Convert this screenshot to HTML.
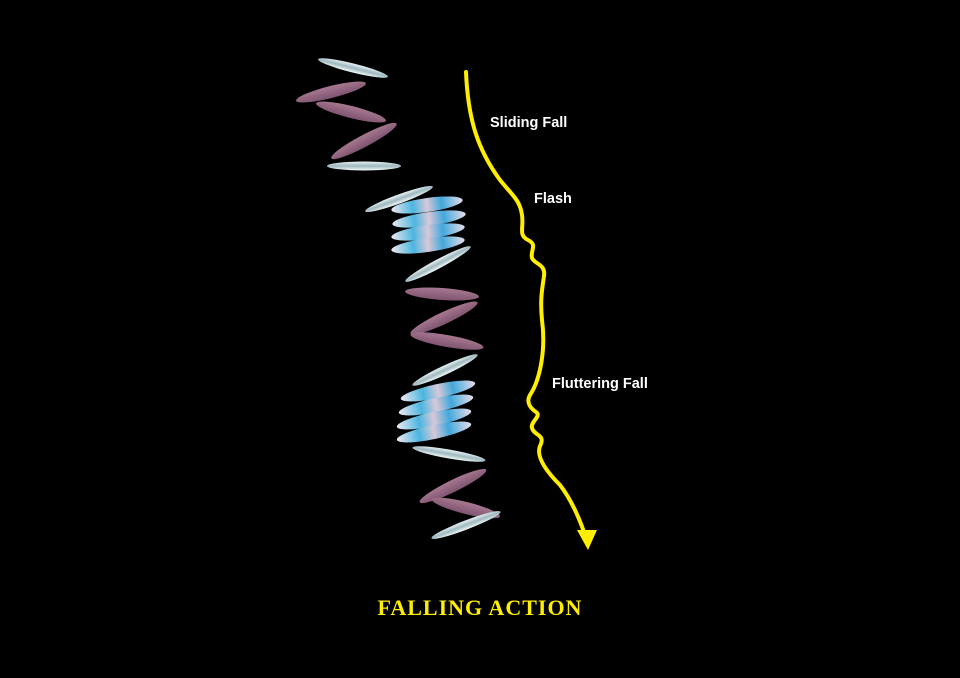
<!DOCTYPE html>
<html><head><meta charset="utf-8"><style>
html,body{margin:0;padding:0;background:#000;}
svg{display:block}
</style></head><body>
<svg width="960" height="678" viewBox="0 0 960 678" xmlns="http://www.w3.org/2000/svg">
<defs>
<linearGradient id="sv" x1="0" y1="0" x2="0" y2="1"><stop offset="0" stop-color="#e8f4f6"/><stop offset="0.5" stop-color="#9fb8bf"/><stop offset="1" stop-color="#f2fafa"/></linearGradient>
<linearGradient id="pk" x1="0" y1="0" x2="0" y2="1"><stop offset="0" stop-color="#a87890"/><stop offset="1" stop-color="#7e5470"/></linearGradient>
<linearGradient id="bl" x1="0" y1="0" x2="1" y2="0"><stop offset="0" stop-color="#f0e8f0"/><stop offset="0.3" stop-color="#4ab6e0"/><stop offset="0.5" stop-color="#d8c8d8"/><stop offset="0.7" stop-color="#40a8dc"/><stop offset="1" stop-color="#e8dce8"/></linearGradient>
</defs>
<rect width="960" height="678" fill="#000"/>
<g>
<ellipse cx="353" cy="68" rx="36" ry="4.5" fill="url(#sv)" transform="rotate(14 353 68)"/>
<ellipse cx="331" cy="92" rx="36" ry="6" fill="url(#pk)" transform="rotate(-14 331 92)"/>
<ellipse cx="351" cy="112" rx="36" ry="6" fill="url(#pk)" transform="rotate(14 351 112)"/>
<ellipse cx="364" cy="141" rx="37" ry="6" fill="url(#pk)" transform="rotate(-28 364 141)"/>
<ellipse cx="364" cy="166" rx="37" ry="4.5" fill="url(#sv)"/>
<ellipse cx="399" cy="199" rx="36" ry="4.5" fill="url(#sv)" transform="rotate(-20 399 199)"/>
<ellipse cx="427" cy="205" rx="36" ry="7" fill="url(#bl)" transform="rotate(-8 427 205)"/>
<ellipse cx="429" cy="219" rx="37" ry="7" fill="url(#bl)" transform="rotate(-8 429 219)"/>
<ellipse cx="428" cy="232" rx="37" ry="7" fill="url(#bl)" transform="rotate(-8 428 232)"/>
<ellipse cx="428" cy="245" rx="37" ry="7" fill="url(#bl)" transform="rotate(-8 428 245)"/>
<ellipse cx="438" cy="264" rx="37" ry="4.5" fill="url(#sv)" transform="rotate(-28 438 264)"/>
<ellipse cx="442" cy="294" rx="37" ry="6" fill="url(#pk)" transform="rotate(4 442 294)"/>
<ellipse cx="444" cy="318" rx="37" ry="6" fill="url(#pk)" transform="rotate(-25 444 318)"/>
<ellipse cx="447" cy="341" rx="37" ry="6" fill="url(#pk)" transform="rotate(10 447 341)"/>
<ellipse cx="445" cy="370" rx="36" ry="4.5" fill="url(#sv)" transform="rotate(-25 445 370)"/>
<ellipse cx="438" cy="391" rx="38" ry="7" fill="url(#bl)" transform="rotate(-12 438 391)"/>
<ellipse cx="436" cy="405" rx="38" ry="7" fill="url(#bl)" transform="rotate(-12 436 405)"/>
<ellipse cx="434" cy="419" rx="38" ry="7" fill="url(#bl)" transform="rotate(-12 434 419)"/>
<ellipse cx="434" cy="432" rx="38" ry="7" fill="url(#bl)" transform="rotate(-12 434 432)"/>
<ellipse cx="449" cy="454" rx="37" ry="4.5" fill="url(#sv)" transform="rotate(10 449 454)"/>
<ellipse cx="453" cy="486" rx="37" ry="6" fill="url(#pk)" transform="rotate(-26 453 486)"/>
<ellipse cx="466" cy="508" rx="35" ry="6" fill="url(#pk)" transform="rotate(14 466 508)"/>
<ellipse cx="466" cy="525" rx="37" ry="4.5" fill="url(#sv)" transform="rotate(-21 466 525)"/>
</g>
<path d="M466,72 C468,120 478,150 500,180 C512,195 520,200 522,215 C524,228 518,235 528,240 C538,245 530,250 532,258 C534,264 546,264 544,276 C542,290 540,300 542,320 C546,350 540,380 530,395 C526,402 530,408 536,412 C542,416 530,422 532,428 C534,436 546,434 540,446 C536,456 545,470 560,485 C570,498 578,515 584,532" fill="none" stroke="#ffee00" stroke-width="4" stroke-linecap="round"/>
<polygon points="577,530 597,530 588,550" fill="#ffee00"/>
<g font-family="Liberation Sans, sans-serif" font-weight="bold" font-size="14.5" fill="#fff">
<text x="490" y="127">Sliding Fall</text>
<text x="534" y="203">Flash</text>
<text x="552" y="388">Fluttering Fall</text>
</g>
<text x="480" y="615" text-anchor="middle" font-family="Liberation Serif, serif" font-weight="bold" font-size="22" fill="#ffee00" letter-spacing="1">FALLING  ACTION</text>
</svg>
</body></html>
